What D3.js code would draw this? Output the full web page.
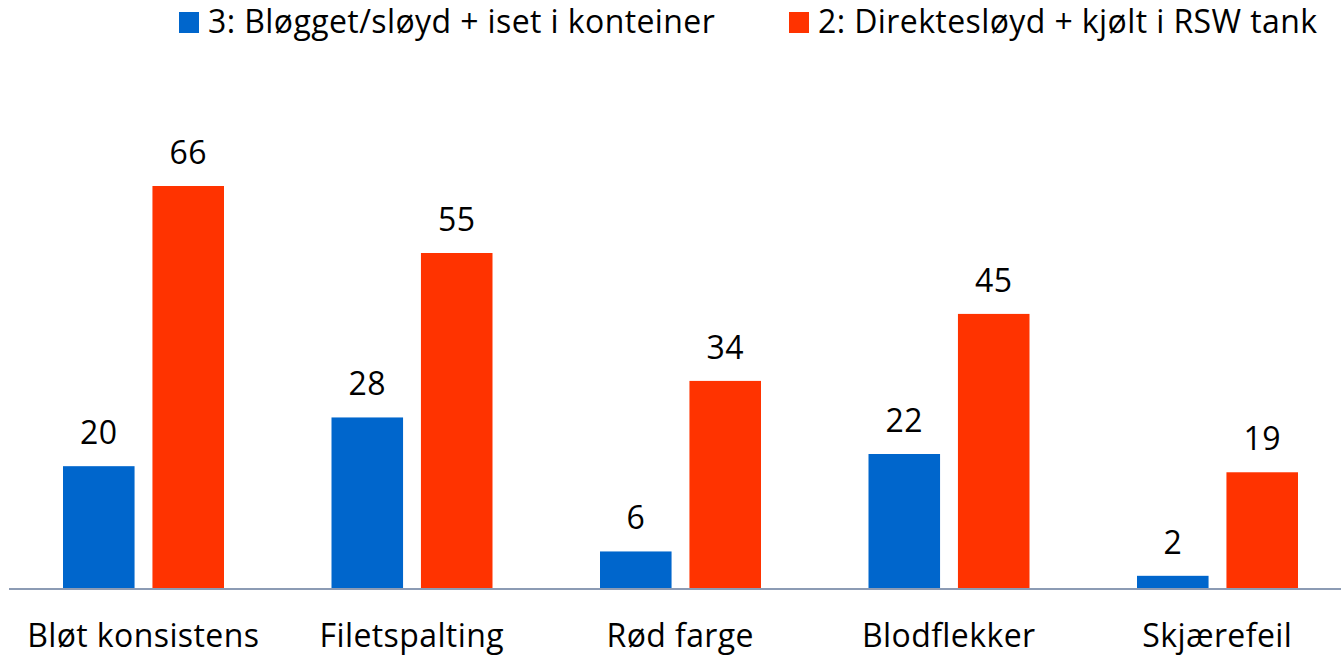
<html>
<head>
<meta charset="utf-8">
<title>Kvalitetsfeil</title>
<style>
  body { margin: 0; background: #fff; }
  text { font-family: "Open Sans", Lato, sans-serif; fill: #000; letter-spacing: 0.4px; }
</style>
</head>
<body>
<script src="https://cdn.jsdelivr.net/npm/d3@7/dist/d3.min.js"></script>
<script>

var categories = ["Bløt konsistens", "Filetspalting", "Rød farge", "Blodflekker", "Skjærefeil"];
var seriesNames = ["3: Bløgget/sløyd + iset i konteiner", "2: Direktesløyd + kjølt i RSW tank"];
var blueValues = [20, 28, 6, 22, 2];
var redValues = [66, 55, 34, 45, 19];
var colors = ["#0066cc", "#ff3300"];

var width = 1341;
var height = 656;
var baseY = 588;
var fontSize = 32;

var svg = d3.select("body").append("svg")
    .attr("width", width)
    .attr("height", height);

// groups across the whole width
var x = d3.scaleBand()
    .domain(categories)
    .range([9, 1351.5]);

var xSub = d3.scaleBand()
    .domain([0, 1])
    .range([54, 215])
    .paddingInner(0.2);

var y = d3.scaleLinear()
    .domain([0, 66])
    .range([baseY, 186]);

var rows = [];
categories.forEach(function(c, i){
    rows.push({cat: c, s: 0, v: blueValues[i]});
    rows.push({cat: c, s: 1, v: redValues[i]});
});

svg.selectAll("rect.bar")
    .data(rows)
    .enter().append("rect")
    .attr("class", "bar")
    .attr("x", function(d){ return x(d.cat) + xSub(d.s); })
    .attr("y", function(d){ return y(d.v); })
    .attr("width", xSub.bandwidth())
    .attr("height", function(d){ return baseY - y(d.v); })
    .attr("fill", function(d){ return colors[d.s]; });

// value labels
svg.selectAll("text.val")
    .data(rows)
    .enter().append("text")
    .attr("class", "val")
    .attr("x", function(d){ return x(d.cat) + xSub(d.s) + xSub.bandwidth() / 2; })
    .attr("y", function(d){ return y(d.v) - 22; })
    .attr("text-anchor", "middle")
    .attr("font-size", fontSize)
    .text(function(d){ return d.v; });

// x axis line
svg.append("line")
    .attr("x1", 9).attr("x2", width)
    .attr("y1", baseY + 1).attr("y2", baseY + 1)
    .attr("stroke", "#8c9bb4")
    .attr("stroke-width", 2);

// category labels
svg.selectAll("text.cat")
    .data(categories)
    .enter().append("text")
    .attr("class", "cat")
    .attr("x", function(d){ return x(d) + x.bandwidth() / 2; })
    .attr("y", 647)
    .attr("text-anchor", "middle")
    .attr("font-size", fontSize)
    .text(function(d){ return d; });

// legend
var legendX = [179, 789];
var legend = svg.selectAll("g.legend")
    .data(seriesNames)
    .enter().append("g")
    .attr("class", "legend")
    .attr("transform", function(d, i){ return "translate(" + legendX[i] + ",0)"; });

legend.append("rect")
    .attr("x", 0).attr("y", 12)
    .attr("width", 20).attr("height", 21)
    .attr("fill", function(d, i){ return colors[i]; });

legend.append("text")
    .attr("x", 29)
    .attr("y", 33)
    .attr("font-size", fontSize)
    .text(function(d){ return d; });

</script>
</body>
</html>
